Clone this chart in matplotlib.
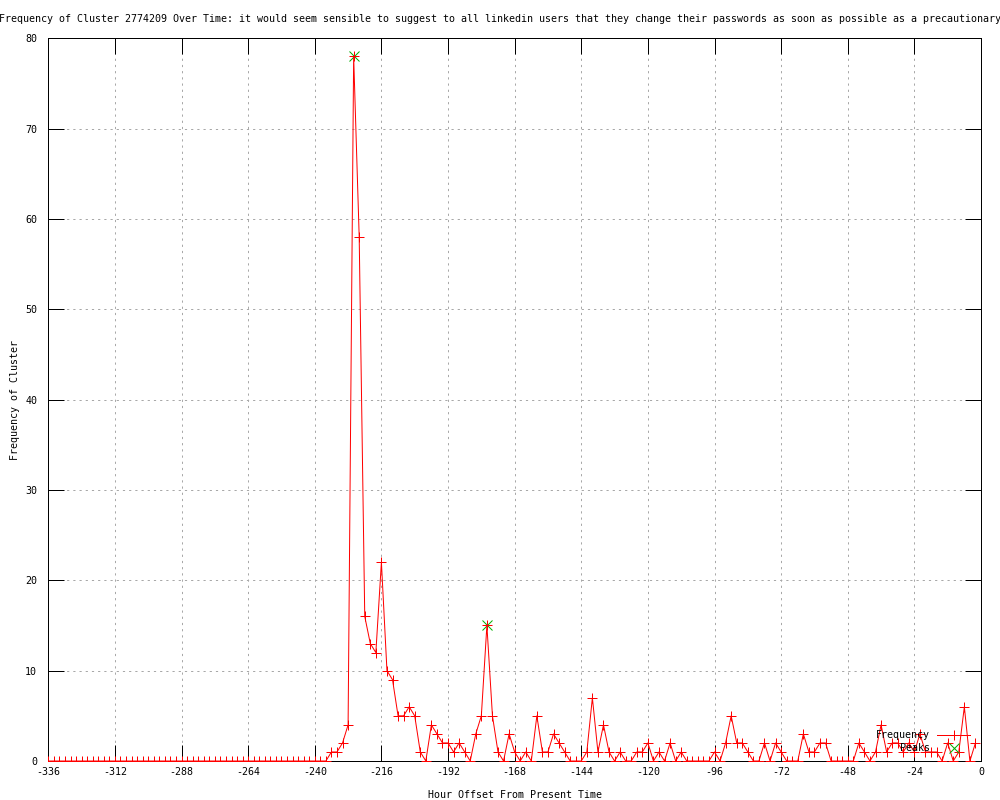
import matplotlib
matplotlib.use("Agg")
import matplotlib.pyplot as plt
import numpy as np

# ---- data ----
hours = list(range(-336, 0, 2))  # -336 .. -2, every 2 hours
freq_early = [0] * 51            # -336 .. -236
freq_rest = [
    1, 1, 2, 4, 78, 58, 16, 13, 12, 22,      # -234 .. -216
    10, 9, 5, 5, 6, 5, 1, 0, 4, 3,           # -214 .. -196
    2, 2, 1, 2, 1, 0, 3, 5, 15, 5,           # -194 .. -176
    1, 0, 3, 1, 0, 1, 0, 5, 1, 1,            # -174 .. -156
    3, 2, 1, 0, 0, 0, 1, 7, 1, 4,            # -154 .. -136
    1, 0, 1, 0, 0, 1, 1, 2, 0, 1,            # -134 .. -116
    0, 2, 0, 1, 0, 0, 0, 0, 0, 1,            # -114 .. -96
    0, 2, 5, 2, 2, 1, 0, 0, 2, 0,            # -94 .. -76
    2, 1, 0, 0, 0, 3, 1, 1, 2, 2,            # -74 .. -56
    0, 0, 0, 0, 0, 2, 1, 0, 1, 4,            # -54 .. -36
    1, 2, 2, 1, 2, 1, 3, 1, 1, 1,            # -34 .. -16
    0, 2, 0, 1, 6, 0, 2,                     # -14 .. -2
]
frequency = freq_early + freq_rest

peak_hours = [-226, -178]
peak_values = [78, 15]

x_ticks = list(range(-336, 1, 24))
y_ticks = list(range(0, 81, 10))

title = ("Frequency of Cluster 2774209 Over Time: it would seem sensible to suggest "
         "to all linkedin users that they change their passwords as soon as possible "
         "as a precautionary")

# ---- figure ----
plt.rcParams['font.family'] = ['DejaVu Sans Mono']
FS = 7.2
PX = 0.72  # one pixel in points at dpi 100

fig = plt.figure(figsize=(10, 8), dpi=100)
ax = fig.add_axes([0.0483, 1 - 761 / 800, 0.981 - 0.0483, (761 - 38.3) / 800])

ax.plot(peak_hours, peak_values, linestyle='none', marker='x', color='#00b000',
        markersize=6.5, markeredgewidth=PX, label='Peaks', zorder=2)
ax.plot(hours, frequency, color='#ff0000', linewidth=PX, marker='+',
        markersize=6.5, markeredgewidth=PX, label='Frequency', zorder=3)

ax.set_xlim(-336, 0)
ax.set_ylim(0, 80)
ax.set_xticks(x_ticks)
ax.set_yticks(y_ticks)
ax.set_xticklabels([str(v) for v in x_ticks])
ax.set_yticklabels([str(v) for v in y_ticks])

ax.tick_params(axis='both', direction='in', length=16 * PX, width=PX,
               labelsize=FS, top=True, right=True, color='black')
ax.tick_params(axis='x', pad=4.5)
ax.tick_params(axis='y', pad=8.0)
for s in ax.spines.values():
    s.set_linewidth(PX)
    s.set_color('black')

ax.grid(True, color='#a8a8a8', linewidth=PX, linestyle=(0, (2.2, 4.0)))
ax.set_axisbelow(True)

ax.set_xlabel("Hour Offset From Present Time", fontsize=FS, labelpad=9)
ax.set_ylabel("Frequency of Cluster", fontsize=FS)
ax.yaxis.set_label_coords((19.5 - 48.3) / 932.7, 0.5)

handles, labels = ax.get_legend_handles_labels()
order = [1, 0]
leg = ax.legend([handles[i] for i in order], [labels[i] for i in order],
                loc='lower right', bbox_to_anchor=((970 - 48.3) / 932.7, 0.011),
                markerfirst=False, frameon=False, fontsize=FS,
                handlelength=3.3, handletextpad=0.7, labelspacing=0.3,
                borderpad=0, borderaxespad=0)

fig.text(-0.001, 1 - 19.5 / 800, title, ha='left', va='center', fontsize=FS)

fig.savefig("out.png", dpi=100)
